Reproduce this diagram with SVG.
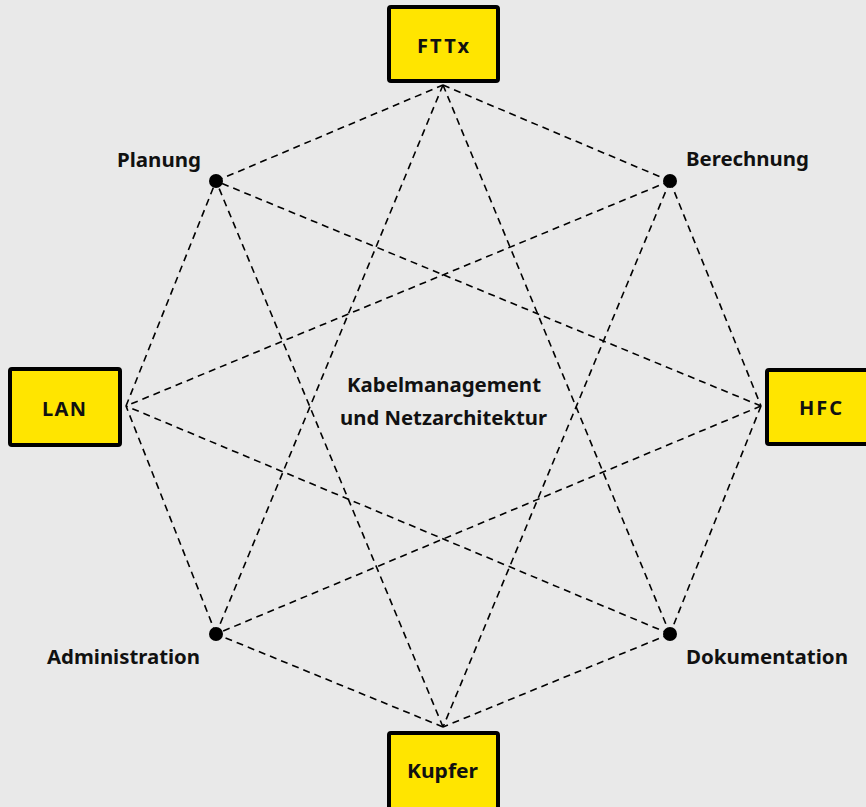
<svg xmlns="http://www.w3.org/2000/svg" width="866" height="807" viewBox="0 0 866 807">
<style>
.bg{fill:#E9E9E9}
.box{fill:#FFE500;stroke:#000;stroke-width:4}
.t{font-family:"Noto Sans","Open Sans","DejaVu Sans",sans-serif;font-weight:bold;font-size:19px;fill:#111}
.b{font-size:20px}
.c line{stroke:#000;stroke-width:1.6;stroke-dasharray:7 5;fill:none}
.dot{fill:#000}
</style>
<rect class="bg" x="0" y="0" width="866" height="807"/>
<g id="connectors" class="c">
<line x1="443" y1="85" x2="670" y2="181"/>
<line x1="670" y1="181" x2="761" y2="406"/>
<line x1="761" y1="406" x2="670" y2="634"/>
<line x1="670" y1="634" x2="443" y2="727"/>
<line x1="443" y1="727" x2="216" y2="634"/>
<line x1="216" y1="634" x2="126" y2="406"/>
<line x1="126" y1="406" x2="216" y2="181"/>
<line x1="216" y1="181" x2="443" y2="85"/>
<line x1="443" y1="85" x2="670" y2="634"/>
<line x1="443" y1="85" x2="216" y2="634"/>
<line x1="670" y1="181" x2="443" y2="727"/>
<line x1="670" y1="181" x2="126" y2="406"/>
<line x1="761" y1="406" x2="216" y2="634"/>
<line x1="761" y1="406" x2="216" y2="181"/>
<line x1="670" y1="634" x2="126" y2="406"/>
<line x1="443" y1="727" x2="216" y2="181"/>
</g>
<g id="fttx"><rect class="box" x="389" y="7" width="109" height="74" rx="2"/><text class="t b" x="417" y="53" textLength="52" lengthAdjust="spacing">FTTx</text></g>
<g id="hfc"><rect class="box" x="767" y="370" width="110" height="74" rx="2"/><text class="t b" x="799" y="415" textLength="43" lengthAdjust="spacing">HFC</text></g>
<g id="kupfer"><rect class="box" x="389" y="733" width="109" height="90" rx="2"/><text class="t b" x="407" y="778" textLength="71" lengthAdjust="spacingAndGlyphs">Kupfer</text></g>
<g id="lan"><rect class="box" x="10" y="369" width="110" height="76" rx="2"/><text class="t b" x="42" y="416" textLength="44" lengthAdjust="spacing">LAN</text></g>
<g id="planung"><circle class="dot" cx="216" cy="181" r="7"/><text class="t" x="117" y="167" textLength="84" lengthAdjust="spacingAndGlyphs">Planung</text></g>
<g id="berechnung"><circle class="dot" cx="670" cy="181" r="7"/><text class="t" x="686" y="166" textLength="123" lengthAdjust="spacingAndGlyphs">Berechnung</text></g>
<g id="dokumentation"><circle class="dot" cx="670" cy="634" r="7"/><text class="t" x="686" y="664" textLength="162" lengthAdjust="spacingAndGlyphs">Dokumentation</text></g>
<g id="administration"><circle class="dot" cx="216" cy="634" r="7"/><text class="t" x="47" y="664" textLength="153" lengthAdjust="spacingAndGlyphs">Administration</text></g>
<g id="center"><text class="t" x="347" y="392" textLength="194" lengthAdjust="spacingAndGlyphs">Kabelmanagement</text><text class="t" x="340" y="425" textLength="207" lengthAdjust="spacingAndGlyphs">und Netzarchitektur</text></g>
</svg>
